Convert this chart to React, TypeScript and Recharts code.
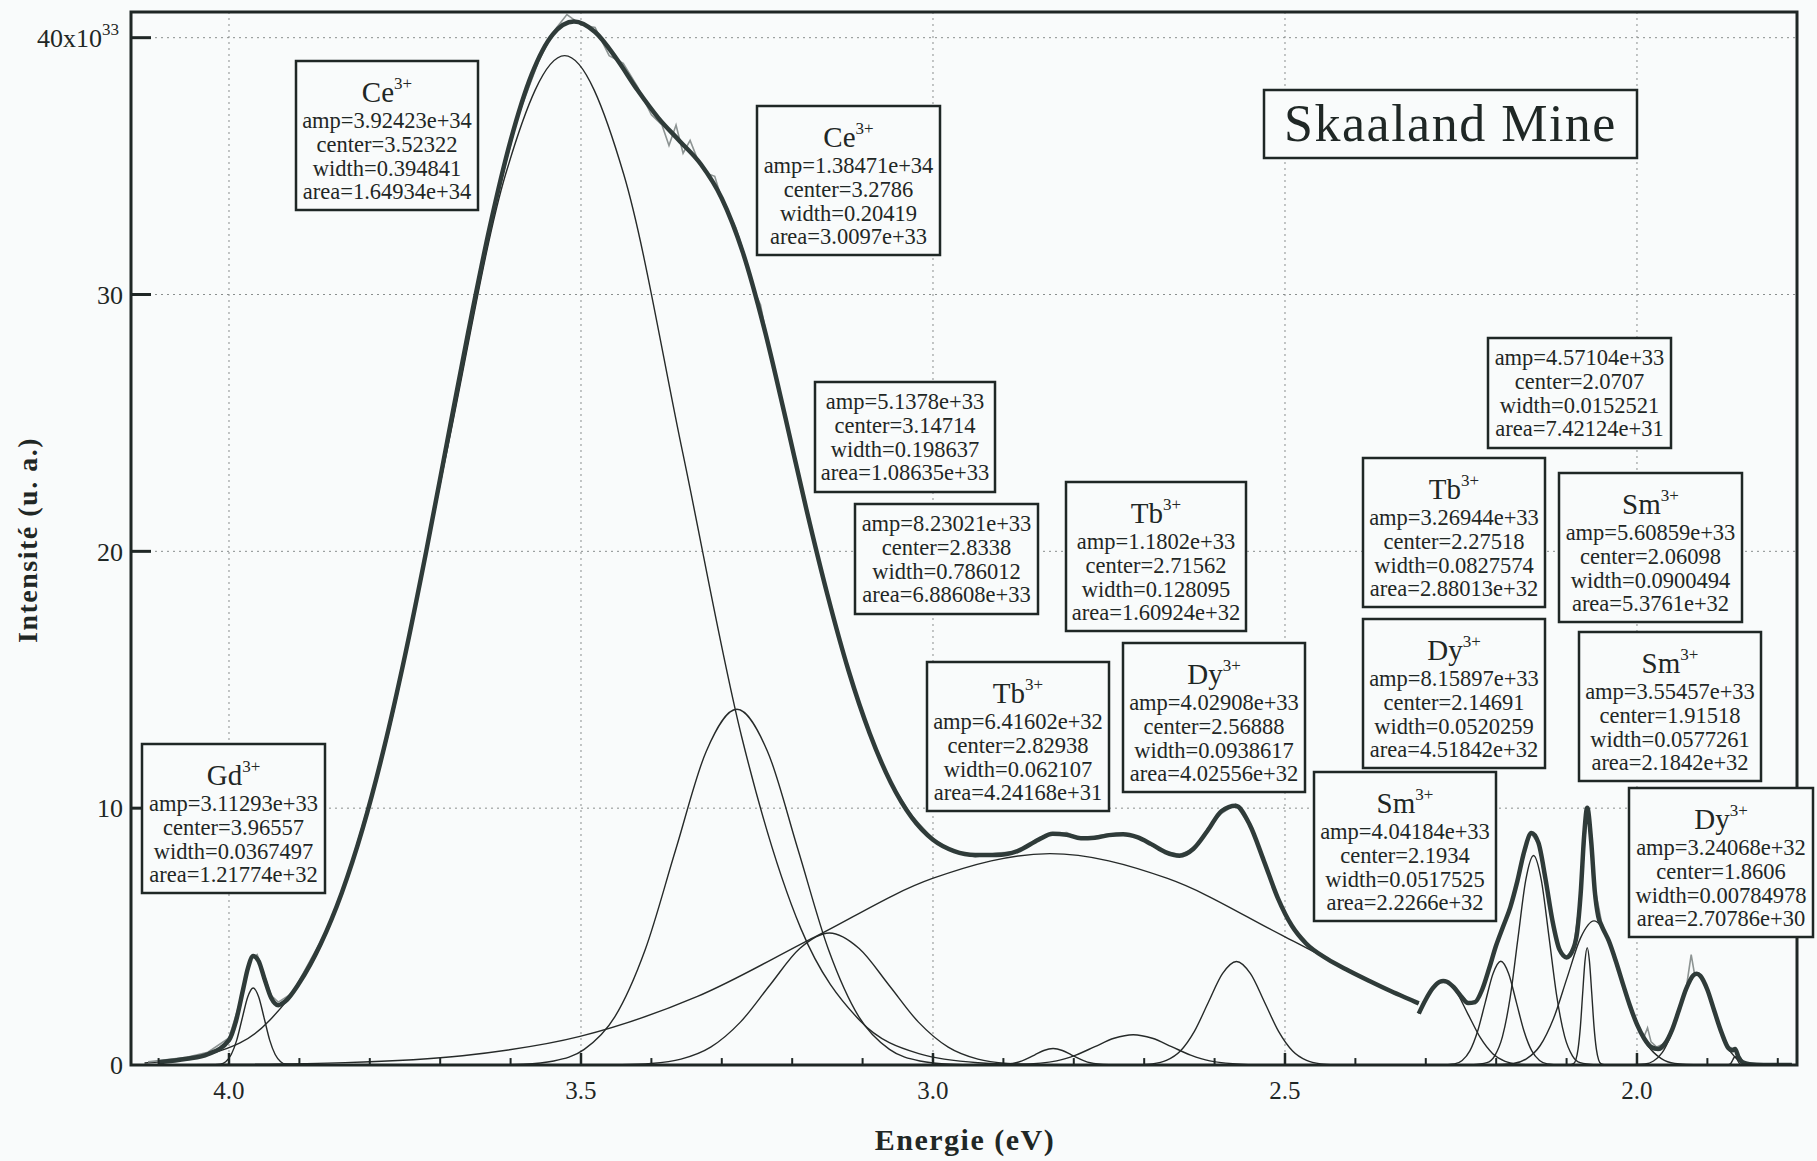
import React from "react";
import {
  CartesianGrid,
  Line,
  LineChart,
  ReferenceLine,
  XAxis,
  YAxis,
} from "recharts";

// ─── layout (pixels of the 1817x1161 picture) ───────────────────
const W = 1817;
const H = 1161;
const PLOT = { left: 131, right: 1797, top: 12, bottom: 1065 };
const E_MAX = 4.1392;
const E_MIN = 1.7727;
const Y_MAX = 41;
const FONT = "'Liberation Serif', 'Times New Roman', serif";
const INK = "#1f2725";
const BG = "#f9fbfb";

// ─── axis ticks ─────────────────────────────────────────────────
const X_TICKS = [4.0, 3.5, 3.0, 2.5, 2.0];
const X_MINOR = [4.1, 3.9, 3.8, 3.7, 3.6, 3.4, 3.3, 3.2, 3.1, 2.9, 2.8, 2.7, 2.6, 2.4, 2.3, 2.2, 2.1, 1.9, 1.8];
const Y_TICKS = [0, 10, 20, 30, 40];

// ─── fit, high-energy part (E in eV, intensity in 1e33) ─────────
const FIT_HI = [
  [4.1, 0.11], [4.06, 0.24], [4.03, 0.42], [4.0, 0.97], [3.99, 1.72], [3.98, 2.94],
  [3.973, 3.78], [3.9656, 4.24], [3.958, 4.05], [3.95, 3.39], [3.94, 2.61], [3.93, 2.33],
  [3.92, 2.48], [3.9, 3.2], [3.87, 4.7], [3.84, 6.69], [3.81, 9.22], [3.78, 12.32],
  [3.75, 15.94], [3.72, 19.98], [3.69, 24.28], [3.66, 28.56], [3.63, 32.57], [3.6, 35.99],
  [3.57, 38.57], [3.54, 40.13], [3.51, 40.63], [3.48, 40.22], [3.45, 39.2], [3.42, 37.97],
  [3.39, 36.87], [3.36, 35.98], [3.33, 35.08], [3.3, 33.74], [3.27, 31.63], [3.24, 28.71],
  [3.21, 25.25], [3.18, 21.66], [3.15, 18.32], [3.12, 15.36], [3.09, 12.92], [3.06, 11.0],
  [3.03, 9.63], [3.0, 8.77], [2.97, 8.33], [2.94, 8.18], [2.91, 8.18], [2.88, 8.33],
  [2.85, 8.77], [2.83, 9.0], [2.81, 8.96], [2.79, 8.83], [2.77, 8.85], [2.75, 8.95],
  [2.73, 8.98], [2.71, 8.87], [2.69, 8.6], [2.67, 8.29], [2.65, 8.15], [2.63, 8.42],
  [2.61, 9.12], [2.59, 9.89], [2.57, 10.09], [2.55, 9.35], [2.53, 7.95], [2.51, 6.49],
  [2.49, 5.41], [2.47, 4.73], [2.44, 4.13], [2.41, 3.68], [2.38, 3.27], [2.35, 2.88],
  [2.32, 2.52], [2.31, 2.4],
];

// ─── fit, low-energy part ───────────────────────────────────────
const FIT_LO = [
  [2.31, 2.0], [2.3, 2.55], [2.29, 2.99], [2.28, 3.24], [2.2752, 3.27], [2.27, 3.24],
  [2.26, 3.02], [2.25, 2.68], [2.24, 2.41], [2.23, 2.45], [2.22, 2.93], [2.21, 3.76],
  [2.2, 4.66], [2.19, 5.4], [2.18, 6.14], [2.17, 7.15], [2.16, 8.33], [2.15, 9.03],
  [2.14, 8.65], [2.13, 7.25], [2.12, 5.61], [2.11, 4.49], [2.1, 4.19], [2.09, 4.56],
  [2.085, 5.17], [2.08, 6.67], [2.075, 8.95], [2.0707, 10.02], [2.065, 8.69], [2.06, 6.78],
  [2.055, 5.78], [2.05, 5.41], [2.04, 4.83], [2.03, 4.04], [2.02, 3.16], [2.01, 2.31],
  [2.0, 1.58], [1.99, 1.04], [1.98, 0.7], [1.97, 0.62], [1.96, 0.84], [1.95, 1.38],
  [1.94, 2.17], [1.93, 2.97], [1.92, 3.49], [1.9152, 3.55], [1.91, 3.47], [1.9, 2.93],
  [1.89, 2.09], [1.88, 1.27], [1.87, 0.65], [1.865, 0.57], [1.8606, 0.62], [1.856, 0.32],
  [1.85, 0.11], [1.84, 0.03], [1.82, 0.0], [1.78, 0.0],
];

// ─── measured spectrum (grey, under the fit) ────────────────────
const DATA_HI = [
  [4.115, 0.12], [4.09, 0.2], [4.06, 0.3], [4.03, 0.5], [4.0, 1.05], [3.985, 2.4], [3.97, 4.1],
  [3.96, 4.3], [3.95, 3.5], [3.94, 2.7], [3.93, 2.45], [3.91, 2.8], [3.89, 3.8], [3.86, 5.3],
  [3.83, 7.5], [3.8, 10.3], [3.77, 13.4], [3.74, 17.2], [3.71, 21.4], [3.68, 25.8], [3.65, 29.9],
  [3.62, 33.7], [3.59, 36.9], [3.56, 39.1], [3.54, 40.2], [3.52, 40.9], [3.5, 40.5], [3.48, 40.4],
  [3.46, 39.3], [3.44, 39.0], [3.42, 38.1], [3.4, 37.0], [3.385, 36.6], [3.375, 35.8], [3.365, 36.6],
  [3.355, 35.5], [3.345, 36.0], [3.335, 35.3], [3.32, 34.7], [3.31, 34.6], [3.3, 33.7], [3.28, 32.6],
  [3.265, 31.3], [3.255, 30.2], [3.245, 29.6], [3.235, 28.2], [3.21, 25.3], [3.18, 21.6], [3.15, 18.4],
  [3.12, 15.3], [3.09, 12.9], [3.06, 11.0], [3.03, 9.7], [3.0, 8.8], [2.97, 8.3], [2.94, 8.1],
  [2.91, 8.25], [2.88, 8.3], [2.85, 8.85], [2.83, 9.0], [2.81, 9.05], [2.79, 8.8], [2.77, 8.9],
  [2.75, 9.0], [2.73, 8.95], [2.71, 8.9], [2.69, 8.55], [2.67, 8.3], [2.65, 8.2], [2.63, 8.4],
  [2.61, 9.2], [2.59, 9.8], [2.57, 10.15], [2.55, 9.3], [2.53, 8.0], [2.51, 6.4], [2.49, 5.45],
  [2.47, 4.7], [2.44, 4.15], [2.41, 3.65], [2.38, 3.3], [2.35, 2.85], [2.32, 2.55],
];
const DATA_LO = [
  [2.305, 2.3], [2.29, 3.0], [2.275, 3.3], [2.26, 3.0], [2.25, 2.7], [2.24, 2.45], [2.23, 2.4],
  [2.22, 2.95], [2.21, 3.7], [2.2, 4.7], [2.19, 5.4], [2.18, 6.2], [2.17, 7.1], [2.16, 8.4],
  [2.15, 9.0], [2.14, 8.6], [2.13, 7.3], [2.12, 5.6], [2.11, 4.5], [2.1, 4.2], [2.09, 4.6],
  [2.08, 6.6], [2.0707, 10.0], [2.065, 8.6], [2.06, 6.9], [2.054, 6.1], [2.048, 5.2], [2.04, 4.9],
  [2.03, 4.0], [2.02, 3.2], [2.01, 2.3], [2.0, 1.6], [1.99, 1.1], [1.985, 1.45], [1.98, 0.9],
  [1.972, 0.7], [1.96, 0.85], [1.95, 1.4], [1.94, 2.2], [1.93, 3.0], [1.923, 4.3], [1.918, 3.5],
  [1.91, 3.5], [1.9, 2.9], [1.89, 2.1], [1.88, 1.3], [1.87, 0.7], [1.866, 0.67], [1.86, 0.55],
  [1.85, 0.15], [1.84, 0.05], [1.82, 0.05], [1.8, 0.02], [1.78, 0.05],
];

// ─── single peaks (thin lines) ──────────────────────────────────
const GD_397 = [
  [4.03, 0], [4.0124, 0.03], [4.0046, 0.13], [3.9968, 0.41], [3.989, 0.97], [3.9812, 1.82],
  [3.9734, 2.65], [3.9656, 3.0], [3.9578, 2.65], [3.95, 1.82], [3.9422, 0.97], [3.9344, 0.41],
  [3.9266, 0.13], [3.9188, 0.03], [3.9, 0],
];
const CE_352 = [
  [4.12, 0.08], [4.0263, 0.44], [3.9425, 1.73], [3.8586, 5.32], [3.7748, 12.76], [3.6909, 23.84],
  [3.6071, 34.68], [3.5232, 39.3], [3.4393, 34.68], [3.3555, 23.84], [3.2716, 12.76], [3.1878, 5.32],
  [3.1039, 1.73], [3.0201, 0.44], [2.9362, 0.09], [2.85, 0.01],
];
const CE_328 = [
  [3.6254, 0.004], [3.5821, 0.03], [3.5387, 0.154], [3.4954, 0.608], [3.452, 1.874], [3.4087, 4.5],
  [3.3653, 8.4], [3.322, 12.22], [3.2786, 13.85], [3.2352, 12.22], [3.1919, 8.4], [3.1485, 4.5],
  [3.1052, 1.874], [3.0618, 0.608], [3.0185, 0.154], [2.9751, 0.03], [2.9318, 0.004],
];
const PK_315 = [
  [3.4845, 0.002], [3.4423, 0.011], [3.4002, 0.057], [3.358, 0.226], [3.3158, 0.695], [3.2736, 1.669],
  [3.2315, 3.117], [3.1893, 4.536], [3.1471, 5.14], [3.1049, 4.536], [3.0627, 3.117], [3.0206, 1.669],
  [2.9784, 0.695], [2.9362, 0.226], [2.894, 0.057], [2.8519, 0.011], [2.8097, 0.002],
];
const BROAD_283 = [
  [4.1, 0.006], [4.0021, 0.018], [3.8352, 0.091], [3.6683, 0.361], [3.5014, 1.114], [3.3345, 2.672],
  [3.1676, 4.992], [3.0007, 7.263], [2.8338, 8.23], [2.6669, 7.263], [2.5, 4.992], [2.3331, 2.672],
  [2.31, 2.4],
];
const TB_283 = [
  [2.9085, 0.007], [2.8821, 0.087], [2.8558, 0.388], [2.8426, 0.565], [2.8294, 0.64],
  [2.8162, 0.565], [2.803, 0.388], [2.7767, 0.087], [2.7503, 0.007],
];
const TB_272 = [
  [2.8788, 0.013], [2.8244, 0.16], [2.7972, 0.383], [2.77, 0.716], [2.7428, 1.041], [2.7156, 1.18],
  [2.6884, 1.041], [2.6612, 0.716], [2.634, 0.383], [2.6068, 0.16], [2.5524, 0.013],
];
const DY_257 = [
  [2.7085, 0.009], [2.6885, 0.045], [2.6685, 0.177], [2.6486, 0.545], [2.6287, 1.309], [2.6088, 2.444],
  [2.5888, 3.556], [2.5689, 4.03], [2.549, 3.556], [2.529, 2.444], [2.5091, 1.309], [2.4892, 0.545],
  [2.4693, 0.177], [2.4493, 0.045], [2.4294, 0.009],
];
const TB_228 = [
  [2.31, 2.0], [2.2928, 2.886], [2.2752, 3.27], [2.2576, 2.886], [2.2401, 1.983], [2.2225, 1.062],
  [2.2049, 0.442], [2.1873, 0.144], [2.1698, 0.036], [2.1522, 0.007],
];
const SM_219 = [
  [2.2813, 0.001], [2.2593, 0.045], [2.2483, 0.177], [2.2374, 0.547], [2.2264, 1.312], [2.2154, 2.45],
  [2.2044, 3.565], [2.1934, 4.04], [2.1824, 3.565], [2.1714, 2.45], [2.1604, 1.312], [2.1494, 0.547],
  [2.1384, 0.177], [2.1275, 0.045], [2.1055, 0.001],
];
const DY_215 = [
  [2.2353, 0.003], [2.2132, 0.091], [2.2021, 0.358], [2.1911, 1.104], [2.18, 2.65], [2.169, 4.949],
  [2.158, 7.201], [2.1469, 8.16], [2.1359, 7.201], [2.1248, 4.949], [2.1138, 2.65], [2.1027, 1.104],
  [2.0917, 0.358], [2.0806, 0.091], [2.0585, 0.003],
];
const PK_207 = [
  [2.0966, 0.001], [2.0901, 0.051], [2.0869, 0.201], [2.0837, 0.618], [2.0804, 1.484], [2.0772, 2.772],
  [2.0739, 4.033], [2.0707, 4.57], [2.0675, 4.033], [2.0642, 2.772], [2.061, 1.484], [2.0577, 0.618],
  [2.0545, 0.201], [2.0513, 0.051], [2.0448, 0.001],
];
const SM_206 = [
  [2.214, 0.002], [2.1757, 0.062], [2.1566, 0.246], [2.1375, 0.759], [2.1184, 1.822], [2.0992, 3.402],
  [2.0801, 4.951], [2.061, 5.61], [2.0419, 4.951], [2.0228, 3.402], [2.0036, 1.822], [1.9845, 0.759],
  [1.9654, 0.246], [1.9463, 0.062], [1.908, 0.002],
];
const SM_192 = [
  [2.0132, 0.001], [1.9887, 0.039], [1.9765, 0.156], [1.9642, 0.48], [1.952, 1.153], [1.9397, 2.153],
  [1.9275, 3.133], [1.9152, 3.55], [1.9029, 3.133], [1.8907, 2.153], [1.8784, 1.153], [1.8662, 0.48],
  [1.8539, 0.156], [1.8417, 0.039], [1.8172, 0.001],
];
const DY_186 = [
  [1.8739, 0], [1.8706, 0.004], [1.8673, 0.043], [1.864, 0.194], [1.8623, 0.282], [1.8606, 0.32],
  [1.8589, 0.282], [1.8573, 0.194], [1.8539, 0.043], [1.8506, 0.004], [1.8473, 0],
];

const PEAKS = [
  GD_397, CE_352, CE_328, PK_315, BROAD_283, TB_283, TB_272, DY_257,
  TB_228, SM_219, DY_215, PK_207, SM_206, SM_192, DY_186,
];

// ─── fit result notes ───────────────────────────────────────────
const NOTES = [
  { ion: "Ce", lines: ["amp=3.92423e+34", "center=3.52322", "width=0.394841", "area=1.64934e+34"] },
  { ion: "Ce", lines: ["amp=1.38471e+34", "center=3.2786", "width=0.20419", "area=3.0097e+33"] },
  { ion: "", lines: ["amp=5.1378e+33", "center=3.14714", "width=0.198637", "area=1.08635e+33"] },
  { ion: "", lines: ["amp=8.23021e+33", "center=2.8338", "width=0.786012", "area=6.88608e+33"] },
  { ion: "Gd", lines: ["amp=3.11293e+33", "center=3.96557", "width=0.0367497", "area=1.21774e+32"] },
  { ion: "Tb", lines: ["amp=6.41602e+32", "center=2.82938", "width=0.062107", "area=4.24168e+31"] },
  { ion: "Tb", lines: ["amp=1.1802e+33", "center=2.71562", "width=0.128095", "area=1.60924e+32"] },
  { ion: "Dy", lines: ["amp=4.02908e+33", "center=2.56888", "width=0.0938617", "area=4.02556e+32"] },
  { ion: "", lines: ["amp=4.57104e+33", "center=2.0707", "width=0.0152521", "area=7.42124e+31"] },
  { ion: "Tb", lines: ["amp=3.26944e+33", "center=2.27518", "width=0.0827574", "area=2.88013e+32"] },
  { ion: "Sm", lines: ["amp=5.60859e+33", "center=2.06098", "width=0.0900494", "area=5.3761e+32"] },
  { ion: "Dy", lines: ["amp=8.15897e+33", "center=2.14691", "width=0.0520259", "area=4.51842e+32"] },
  { ion: "Sm", lines: ["amp=3.55457e+33", "center=1.91518", "width=0.0577261", "area=2.1842e+32"] },
  { ion: "Sm", lines: ["amp=4.04184e+33", "center=2.1934", "width=0.0517525", "area=2.2266e+32"] },
  { ion: "Dy", lines: ["amp=3.24068e+32", "center=1.8606", "width=0.00784978", "area=2.70786e+30"] },
];
// box corners (left, top, right) in picture pixels, same order as NOTES
const NOTE_BOXES = [
  [296, 61, 478], [757, 106, 940], [815, 382, 995], [855, 504, 1038], [142, 744, 325],
  [927, 662, 1109], [1066, 482, 1246], [1123, 643, 1305], [1488, 338, 1671], [1363, 458, 1545],
  [1559, 473, 1742], [1363, 619, 1545], [1579, 632, 1761], [1314, 772, 1496], [1629, 788, 1813],
];

const toPts = (arr: number[][]) => arr.map(([e, v]) => ({ e, v }));

function YTick(props: any) {
  const { x, y, payload } = props;
  const common = { fill: INK, fontFamily: FONT, fontSize: 26, textAnchor: "end" as const };
  if (payload.value === 40) {
    return (
      <text x={x - 4} y={y} dy="0.355em" {...common}>
        <tspan>40x10</tspan>
        <tspan dy={-12} fontSize={17}>33</tspan>
      </text>
    );
  }
  return (
    <text x={x} y={y} dy="0.355em" {...common}>
      {payload.value}
    </text>
  );
}

function NoteBox({ note, box }: { note: (typeof NOTES)[number]; box: number[] }) {
  const [l, t, r] = box;
  const cx = (l + r) / 2;
  const titled = note.ion !== "";
  const h = titled ? 149 : 110;
  const first = titled ? 67 : 27;
  return (
    <g>
      <rect x={l} y={t} width={r - l} height={h} fill={BG} stroke={INK} strokeWidth={2.5} />
      {titled && (
        <text x={cx} y={t + 41} textAnchor="middle" fontFamily={FONT} fontSize={29} fill={INK}>
          <tspan>{note.ion}</tspan>
          <tspan dy={-13} fontSize={17}>3+</tspan>
        </text>
      )}
      {note.lines.map((s, i) => (
        <text key={i} x={cx} y={t + first + i * 23.8} textAnchor="middle" fontFamily={FONT} fontSize={22.5} fill={INK}>
          {s}
        </text>
      ))}
    </g>
  );
}

export default function App() {
  const majorTicks = X_TICKS.map((e) => (
    <ReferenceLine key={`mx${e}`} segment={[{ x: e, y: 0 }, { x: e, y: 0.47 }]} stroke={INK} strokeWidth={2.5} ifOverflow="visible" />
  ));
  const minorTicks = X_MINOR.map((e) => (
    <ReferenceLine key={`nx${e}`} segment={[{ x: e, y: 0 }, { x: e, y: 0.27 }]} stroke={INK} strokeWidth={2} ifOverflow="visible" />
  ));
  const yTicks = Y_TICKS.slice(1).map((v) => (
    <ReferenceLine key={`y${v}`} segment={[{ x: E_MAX, y: v }, { x: E_MAX - 0.0284, y: v }]} stroke={INK} strokeWidth={3} ifOverflow="visible" />
  ));

  return (
    <div style={{ position: "absolute", left: 0, top: 0, width: W, height: H, background: BG }}>
      <LineChart
        width={W}
        height={H}
        margin={{ top: PLOT.top, right: W - PLOT.right, bottom: 36, left: 0 }}
      >
        <CartesianGrid strokeDasharray="2 4" stroke="#8a8f8e" strokeWidth={1} />
        <XAxis
          type="number"
          dataKey="e"
          domain={[E_MIN, E_MAX]}
          reversed
          allowDataOverflow
          ticks={X_TICKS}
          interval={0}
          tickFormatter={(v: number) => v.toFixed(1)}
          tickLine={false}
          axisLine={false}
          tickSize={0}
          tickMargin={16}
          height={60}
          tick={{ fill: INK, fontSize: 25, fontFamily: FONT }}
        />
        <YAxis
          type="number"
          dataKey="v"
          domain={[0, Y_MAX]}
          allowDataOverflow
          ticks={Y_TICKS}
          interval={0}
          width={PLOT.left}
          tickLine={false}
          axisLine={false}
          tickSize={0}
          tickMargin={8}
          tick={YTick}
        />
        {PEAKS.map((p, i) => (
          <Line
            key={`pk${i}`}
            name={`peak${i}`}
            data={toPts(p)}
            dataKey="v"
            type="monotone"
            stroke="#262a29"
            strokeWidth={1.4}
            dot={false}
            activeDot={false}
            isAnimationActive={false}
          />
        ))}
        <Line name="data-hi" data={toPts(DATA_HI)} dataKey="v" type="linear" stroke="#8d9493" strokeWidth={1.6} dot={false} activeDot={false} isAnimationActive={false} />
        <Line name="data-lo" data={toPts(DATA_LO)} dataKey="v" type="linear" stroke="#8d9493" strokeWidth={1.6} dot={false} activeDot={false} isAnimationActive={false} />
        <Line name="fit-hi" data={toPts(FIT_HI)} dataKey="v" type="monotone" stroke="#2f3b39" strokeWidth={4.5} dot={false} activeDot={false} isAnimationActive={false} />
        <Line name="fit-lo" data={toPts(FIT_LO)} dataKey="v" type="monotone" stroke="#2f3b39" strokeWidth={4.5} dot={false} activeDot={false} isAnimationActive={false} />
        {majorTicks}
        {minorTicks}
        {yTicks}
      </LineChart>

      <svg width={W} height={H} style={{ position: "absolute", left: 0, top: 0, pointerEvents: "none" }}>
        <rect
          x={PLOT.left}
          y={PLOT.top}
          width={PLOT.right - PLOT.left}
          height={PLOT.bottom - PLOT.top}
          fill="none"
          stroke={INK}
          strokeWidth={3}
        />
        {NOTES.map((n, i) => (
          <NoteBox key={i} note={n} box={NOTE_BOXES[i]} />
        ))}
        <rect x={1264} y={90} width={373} height={68} fill={BG} stroke={INK} strokeWidth={2.5} />
        <text x={1450.5} y={141} textAnchor="middle" fontFamily={FONT} fontSize={52} letterSpacing={1.5} fill={INK}>
          Skaaland Mine
        </text>
        <text x={965} y={1150} textAnchor="middle" fontFamily={FONT} fontSize={30} fontWeight={700} letterSpacing={1.5} fill={INK}>
          Energie (eV)
        </text>
        <text
          x={37}
          y={540}
          textAnchor="middle"
          fontFamily={FONT}
          fontSize={28}
          fontWeight={700}
          letterSpacing={1.5}
          fill={INK}
          transform="rotate(-90 37 540)"
        >
          Intensité (u. a.)
        </text>
      </svg>
    </div>
  );
}
